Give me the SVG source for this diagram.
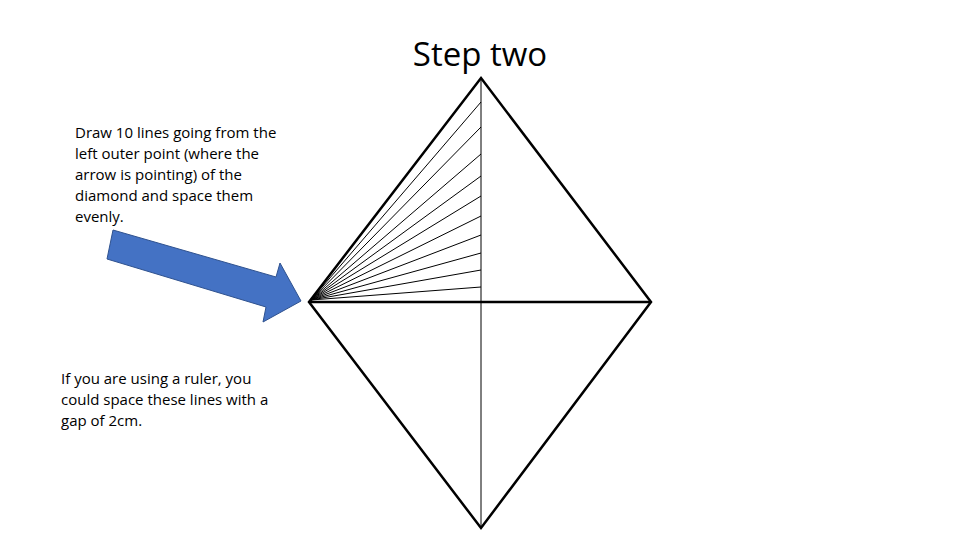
<svg xmlns="http://www.w3.org/2000/svg" width="960" height="540" viewBox="0 0 960 540">
<style>
text{font-family:"Open Sans","Liberation Sans",sans-serif;fill:#000}
.t{font-size:15px}
.thin{stroke:#000;stroke-width:1;fill:none}
.thick{stroke:#000;stroke-width:2.5;fill:none}
</style>
<rect width="960" height="540" fill="#fff"/>
<text x="480" y="66" font-size="33" text-anchor="middle">Step two</text>
<g id="instructions">
<text class="t" x="75" y="138">Draw 10 lines going from the</text>
<text class="t" x="75" y="159">left outer point (where the</text>
<text class="t" x="75" y="180">arrow is pointing) of the</text>
<text class="t" x="75" y="201">diamond and space them</text>
<text class="t" x="75" y="222">evenly.</text>
</g>
<g id="ruler-note">
<text class="t" x="61" y="384">If you are using a ruler, you</text>
<text class="t" x="61" y="405">could space these lines with a</text>
<text class="t" x="61" y="426">gap of 2cm.</text>
</g>
<g id="arrow">
<polygon points="113,230 276,277 280,263 301,301 263,322 266,307 107,259" fill="#4472c4" stroke="#2f528f" stroke-width="1"/>
</g>
<g id="diamond">
<polygon class="thick" points="481,78 651,302 481,528 309,302"/>
<line class="thin" x1="481" y1="78" x2="481" y2="528"/>
<line class="thick" x1="309" y1="302" x2="651" y2="302"/>
</g>
<g id="connectors" class="thin">
<line x1="311" y1="300" x2="481" y2="102"/>
<line x1="311" y1="300" x2="481" y2="127"/>
<line x1="311" y1="300" x2="481" y2="154"/>
<line x1="311" y1="300" x2="481" y2="176"/>
<line x1="311" y1="300" x2="481" y2="196"/>
<line x1="311" y1="300" x2="481" y2="216"/>
<line x1="311" y1="300" x2="481" y2="235"/>
<line x1="311" y1="300" x2="481" y2="253"/>
<line x1="311" y1="300" x2="481" y2="270"/>
<line x1="311" y1="300" x2="481" y2="287"/>
</g>
</svg>
